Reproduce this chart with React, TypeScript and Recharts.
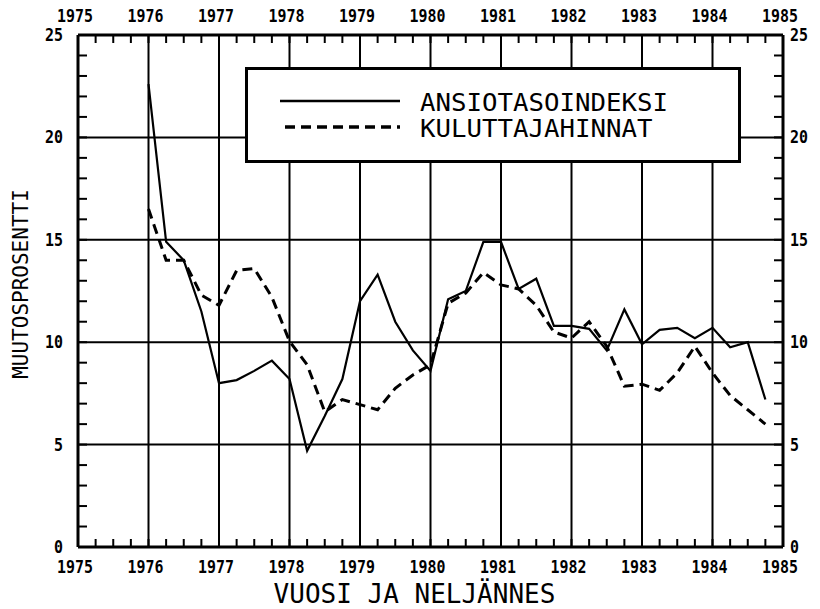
import { Legend, Line, LineChart, ReferenceLine, XAxis, YAxis } from 'recharts';

// quarterly observations, plotted at the start of each quarter
const quarters = [
  1976, 1976.25, 1976.5, 1976.75, 1977, 1977.25, 1977.5, 1977.75,
  1978, 1978.25, 1978.5, 1978.75, 1979, 1979.25, 1979.5, 1979.75,
  1980, 1980.25, 1980.5, 1980.75, 1981, 1981.25, 1981.5, 1981.75,
  1982, 1982.25, 1982.5, 1982.75, 1983, 1983.25, 1983.5, 1983.75,
  1984, 1984.25, 1984.5, 1984.75,
];

const ansiotaso = [
  22.6, 14.9, 14.0, 11.5, 8.0, 8.15, 8.6, 9.1,
  8.2, 4.7, 6.4, 8.2, 12.0, 13.3, 11.0, 9.6,
  8.6, 12.1, 12.5, 14.9, 14.9, 12.6, 13.1, 10.8,
  10.8, 10.65, 9.6, 11.6, 9.9, 10.6, 10.7, 10.2,
  10.7, 9.75, 10.0, 7.2,
];

const kuluttajahinnat = [
  16.5, 14.0, 14.0, 12.3, 11.8, 13.5, 13.6, 12.2,
  10.05, 8.9, 6.6, 7.2, 6.95, 6.7, 7.75, 8.4,
  8.9, 11.9, 12.4, 13.4, 12.8, 12.6, 11.8, 10.5,
  10.2, 11.0, 9.8, 7.85, 7.95, 7.65, 8.5, 9.8,
  8.5, 7.4, 6.7, 6.0,
];

const yearTicks = [1975, 1976, 1977, 1978, 1979, 1980, 1981, 1982, 1983, 1984, 1985];
const gridYears = [1976, 1977, 1978, 1979, 1980, 1981, 1982, 1983, 1984];
const valueTicks = [0, 1, 2, 3, 4, 5, 6, 7, 8, 9, 10, 11, 12, 13, 14, 15, 16, 17, 18, 19, 20, 21, 22, 23, 24, 25];
const gridValues = [5, 10, 15, 20];

const series = [
  { key: 'ansio', name: 'ANSIOTASOINDEKSI', dash: undefined, width: 2.2 },
  { key: 'kulu', name: 'KULUTTAJAHINNAT', dash: '10 6', width: 3 },
];

const data = quarters.map((t, i) => ({ t, ansio: ansiotaso[i], kulu: kuluttajahinnat[i] }));
// minor ticks at every quarter
const quarterTicks = yearTicks.flatMap((y) => (y < 1985 ? [y, y + 0.25, y + 0.5, y + 0.75] : [y]));

const MONO = '"DejaVu Sans Mono", monospace';

function TickText({ x, y, anchor, value }: { x: number; y: number; anchor: string; value: string }) {
  return (
    <text
      x={x}
      y={y}
      textAnchor={anchor}
      fontFamily={MONO}
      fontWeight="bold"
      fontSize={18}
      textLength={value.length * 9}
      lengthAdjust="spacingAndGlyphs"
      fill="#000"
    >
      {value}
    </text>
  );
}

function XTick(props: any) {
  const { x, y, payload, side } = props;
  const v = payload.value as number;
  const dir = side === 'top' ? 1 : -1;
  return (
    <g>
      <line x1={x} x2={x} y1={y} y2={y + dir * 8} stroke="#000" strokeWidth={2} />
      {Number.isInteger(v) && (
        <TickText x={x - 3} y={side === 'top' ? y - 13 : y + 26} anchor="middle" value={String(v)} />
      )}
    </g>
  );
}

function YTick(props: any) {
  const { x, y, payload, side } = props;
  const v = payload.value as number;
  const dir = side === 'left' ? 1 : -1;
  return (
    <g>
      <line x1={x} x2={x + dir * 9} y1={y} y2={y} stroke="#000" strokeWidth={2} />
      {v % 5 === 0 && (
        <TickText
          x={side === 'left' ? x - 15 : x + 7}
          y={y + 6}
          anchor={side === 'left' ? 'end' : 'start'}
          value={String(v)}
        />
      )}
    </g>
  );
}

function LegendBox() {
  return (
    <svg width={496} height={96} style={{ display: 'block' }}>
      <rect x={1.5} y={1.5} width={493} height={93} fill="#fff" stroke="#000" strokeWidth={3} />
      {series.map((s, i) => (
        <g key={s.key}>
          <line
            x1={i === 0 ? 35 : 40}
            x2={155}
            y1={34 + i * 26}
            y2={34 + i * 26}
            stroke="#000"
            strokeWidth={s.width + 0.3}
            strokeDasharray={s.dash}
          />
          <text x={175} y={44 + i * 26} fontFamily={MONO} fontSize={25} textLength={s.name.length * 15.5} lengthAdjust="spacingAndGlyphs" fill="#000">
            {s.name}
          </text>
        </g>
      ))}
    </svg>
  );
}

export default function App() {
  return (
    <div style={{ position: 'absolute', left: 0, top: 0, width: 820, height: 609, background: '#fff' }}>
      <LineChart width={820} height={609} data={data} margin={{ top: 5, right: 0, bottom: 0, left: 0 }}>
        <XAxis
          dataKey="t"
          type="number"
          domain={[1975, 1985]}
          ticks={quarterTicks}
          interval={0}
          height={62}
          tickSize={0}
          tickMargin={0}
          tickLine={false}
          axisLine={{ stroke: '#000', strokeWidth: 3 }}
          tick={(p: any) => <XTick {...p} side="bottom" />}
          label={(p: any) => {
            const vb = p.viewBox;
            return (
              <text x={vb.x + vb.width / 2 - 16} y={vb.y + 56} textAnchor="middle" fontFamily={MONO} fontSize={26} fill="#000">
                VUOSI JA NELJÄNNES
              </text>
            );
          }}
        />
        <XAxis
          xAxisId="top"
          dataKey="t"
          orientation="top"
          type="number"
          domain={[1975, 1985]}
          ticks={quarterTicks}
          interval={0}
          height={30}
          tickSize={0}
          tickMargin={0}
          tickLine={false}
          axisLine={{ stroke: '#000', strokeWidth: 3 }}
          tick={(p: any) => <XTick {...p} side="top" />}
        />
        <YAxis
          type="number"
          domain={[0, 25]}
          ticks={valueTicks}
          interval={0}
          width={78}
          tickSize={0}
          tickMargin={0}
          tickLine={false}
          axisLine={{ stroke: '#000', strokeWidth: 3 }}
          tick={(p: any) => <YTick {...p} side="left" />}
          label={(p: any) => {
            const vb = p.viewBox;
            const cy = vb.y + vb.height / 2 - 7;
            return (
              <text x={28} y={cy} transform={`rotate(-90 28 ${cy})`} textAnchor="middle" fontFamily={MONO} fontSize={21} fill="#000">
                MUUTOSPROSENTTI
              </text>
            );
          }}
        />
        <YAxis
          yAxisId="right"
          orientation="right"
          type="number"
          domain={[0, 25]}
          ticks={valueTicks}
          interval={0}
          width={37}
          tickSize={0}
          tickMargin={0}
          tickLine={false}
          axisLine={{ stroke: '#000', strokeWidth: 3 }}
          tick={(p: any) => <YTick {...p} side="right" />}
        />
        {gridYears.map((yr) => (
          <ReferenceLine key={`gx${yr}`} x={yr} stroke="#000" strokeWidth={2} />
        ))}
        {gridValues.map((v) => (
          <ReferenceLine key={`gy${v}`} y={v} stroke="#000" strokeWidth={2} />
        ))}
        {series.map((s) => (
          <Line
            key={s.key}
            dataKey={s.key}
            name={s.name}
            type="linear"
            stroke="#000"
            strokeWidth={s.width}
            strokeDasharray={s.dash}
            dot={false}
            isAnimationActive={false}
          />
        ))}
        {/* invisible copy bound to the top and right axes so they get a scale */}
        <Line
          xAxisId="top"
          yAxisId="right"
          dataKey="ansio"
          stroke="none"
          legendType="none"
          dot={false}
          activeDot={false}
          isAnimationActive={false}
        />
        <Legend
          layout="horizontal"
          verticalAlign="middle"
          align="center"
          wrapperStyle={{ left: 245, top: 67, width: 496, height: 96 }}
          content={() => <LegendBox />}
        />
      </LineChart>
    </div>
  );
}
